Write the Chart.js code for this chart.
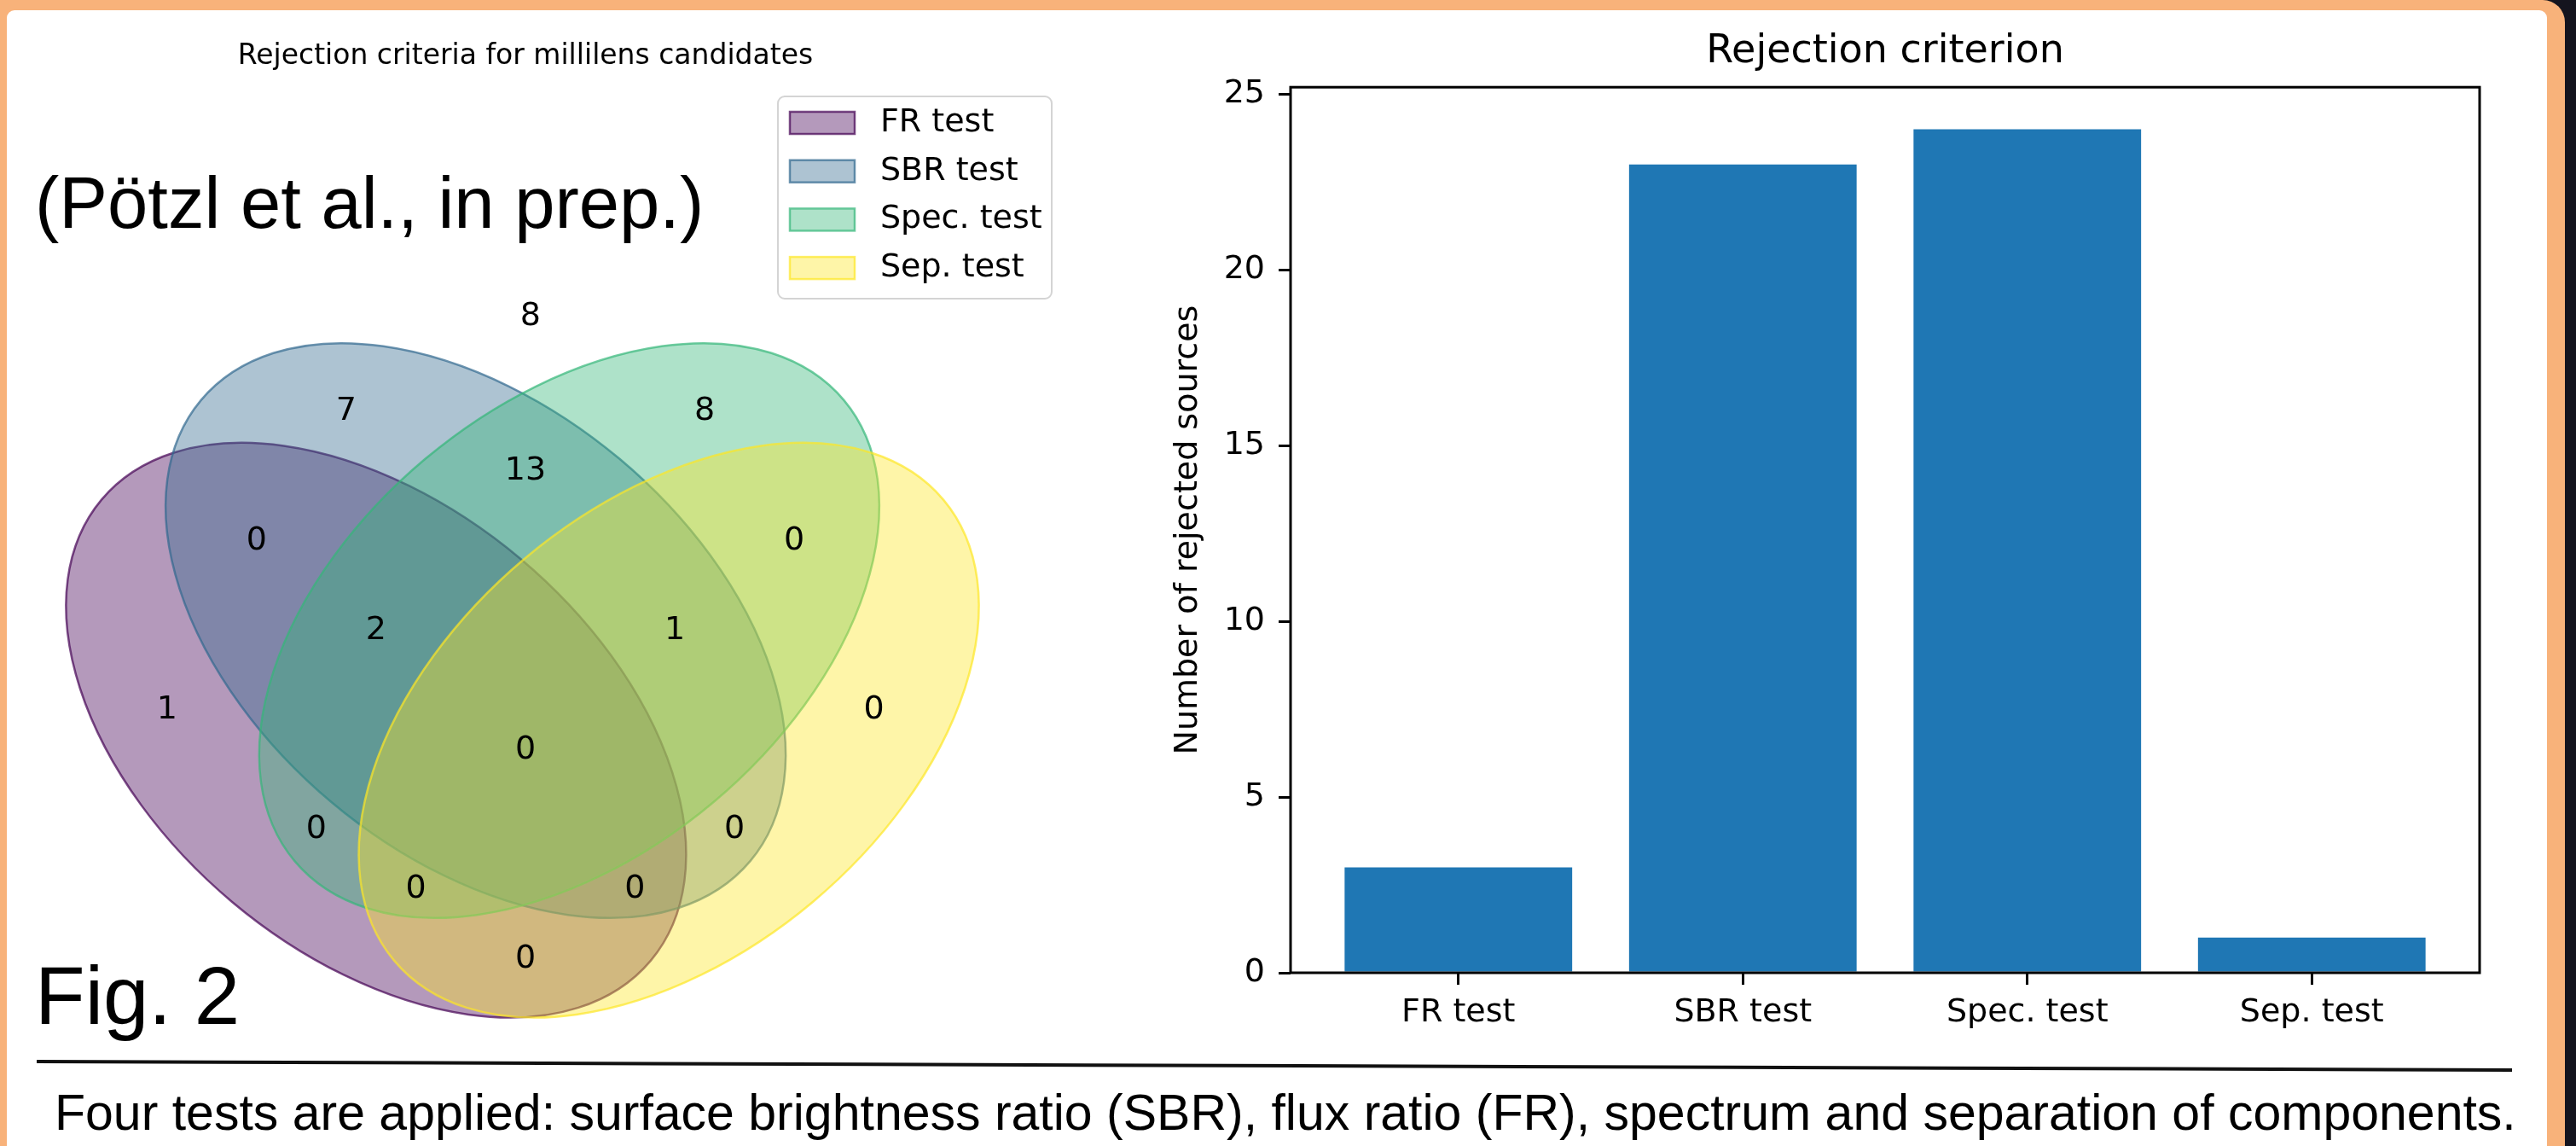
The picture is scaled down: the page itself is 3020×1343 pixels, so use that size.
<!DOCTYPE html>
<html>
<head>
<meta charset="utf-8">
<script src="https://cdn.jsdelivr.net/npm/chart.js@4.4.0/dist/chart.umd.min.js"></script>
<style>
  html, body { margin: 0; padding: 0; }
  body {
    width: 3020px; height: 1343px; overflow: hidden; position: relative;
    background: #14141e; font-family: 'Liberation Sans', Arial, sans-serif; color: #000;
  }
  #frame { position: absolute; left: 0; top: 0; width: 3007px; height: 1400px; background: #f8b27a; border-top-right-radius: 26px; }
  #card { position: absolute; left: 8px; top: 12px; width: 2978px; height: 1400px; background: #fff; border-radius: 9px; }
  canvas { position: absolute; }
  #venn { left: -26px; top: 0; }
  #bars { left: 1330px; top: 0; }
  .note { position: absolute; white-space: nowrap; line-height: 1; }
  #ref { left: 41px; top: 195px; font-size: 85px; }
  #fig { left: 41px; top: 1119px; font-size: 96px; }
  #caption { left: 64px; top: 1275px; font-size: 59px; }
  #rule { position: absolute; left: 0; top: 0; }
</style>
</head>
<body>
<div id="frame"></div>
<div id="card"></div>
<canvas id="venn" width="1284" height="1381"></canvas>
<canvas id="bars" width="1600" height="1240"></canvas>
<div class="note" id="ref">(Pötzl et al., in prep.)</div>
<div class="note" id="fig">Fig. 2</div>
<svg id="rule" width="3020" height="1343"><line x1="43" y1="1244" x2="2945" y2="1254" stroke="#111" stroke-width="4"/></svg>
<div class="note" id="caption">Four tests are applied: surface brightness ratio (SBR), flux ratio (FR), spectrum and separation of components.</div>

<script>
// values
const testNames = ['FR test', 'SBR test', 'Spec. test', 'Sep. test'];
const rejectedCounts = [3, 23, 24, 1];
const yTickValues = [0, 5, 10, 15, 20, 25];

// venn regions: digit i is 1 when the source fails test i (FR, SBR, Spec., Sep.)
const regionCodes = ['0000', '1000', '0100', '0010', '0001', '1100', '1010', '1001',
                     '0110', '0101', '0011', '1110', '1101', '1011', '0111', '1111'];
const regionCounts = [8, 1, 7, 8, 0, 0, 0, 0, 13, 0, 0, 2, 0, 0, 1, 0];

// 4-set ellipse layout (axis units, 0..1)
const ellipseCenters = [[0.350, 0.400], [0.450, 0.500], [0.544, 0.500], [0.644, 0.400]];
const ellipseDims = [0.72, 0.45];
const ellipseAngles = [140, 140, 40, 40];
const regionLabelPos = {
    '0000': [0.505, 0.815],
    '0001': [0.85, 0.42], '0010': [0.68, 0.72], '0011': [0.77, 0.59],
    '0100': [0.32, 0.72], '0101': [0.71, 0.30], '0110': [0.50, 0.66], '0111': [0.65, 0.50],
    '1000': [0.14, 0.42], '1001': [0.50, 0.17], '1010': [0.29, 0.30], '1011': [0.39, 0.24],
    '1100': [0.23, 0.59], '1101': [0.61, 0.24], '1110': [0.35, 0.50], '1111': [0.50, 0.38]
};
const setColors = [[68, 1, 84], [49, 104, 142], [53, 183, 121], [253, 231, 37]];  // viridis

Chart.defaults.font.family = '"DejaVu Sans", sans-serif';
Chart.defaults.color = '#000';

// ellipses, region counts and the legend box of the venn panel
const vennDrawing = {
    id: 'vennDrawing',
    beforeDatasetsDraw(chart) {
        const { ctx, scales: { x, y } } = chart;
        ctx.save();
        ellipseCenters.forEach((c, i) => {
            const cx = x.getPixelForValue(c[0]);
            const cy = y.getPixelForValue(c[1]);
            const rx = x.getPixelForValue(c[0] + ellipseDims[0] / 2) - cx;
            const ry = cy - y.getPixelForValue(c[1] + ellipseDims[1] / 2);
            const rgb = setColors[i].join(',');
            ctx.beginPath();
            ctx.ellipse(cx, cy, rx, ry, -ellipseAngles[i] * Math.PI / 180, 0, 2 * Math.PI);
            ctx.fillStyle = `rgba(${rgb},0.4)`;
            ctx.fill();
            ctx.lineWidth = 2.5;
            ctx.strokeStyle = `rgba(${rgb},0.7)`;
            ctx.stroke();
        });
        ctx.restore();
    },
    afterDatasetsDraw(chart) {
        const ctx = chart.ctx;
        const meta = chart.getDatasetMeta(0);
        ctx.save();
        ctx.font = '38px "DejaVu Sans"';
        ctx.fillStyle = '#000';
        ctx.textAlign = 'center';
        ctx.textBaseline = 'middle';
        meta.data.forEach((pt, i) => ctx.fillText(String(regionCounts[i]), pt.x, pt.y));
        ctx.restore();
    },
    afterDraw(chart) {
        const ctx = chart.ctx;
        const box = { left: 938, top: 113, width: 321, height: 237 };
        ctx.save();
        ctx.beginPath();
        ctx.roundRect(box.left, box.top, box.width, box.height, 8);
        ctx.fillStyle = 'rgba(255,255,255,0.8)';
        ctx.fill();
        ctx.lineWidth = 2;
        ctx.strokeStyle = '#d4d4d4';
        ctx.stroke();
        ctx.font = '38px "DejaVu Sans"';
        ctx.textBaseline = 'middle';
        testNames.forEach((name, i) => {
            const top = box.top + 18 + i * 56.7;
            const rgb = setColors[i].join(',');
            ctx.fillStyle = `rgba(${rgb},0.4)`;
            ctx.fillRect(box.left + 14, top, 76, 26);
            ctx.lineWidth = 2.5;
            ctx.strokeStyle = `rgba(${rgb},0.7)`;
            ctx.strokeRect(box.left + 14, top, 76, 26);
            ctx.fillStyle = '#000';
            ctx.fillText(name, box.left + 120, top + 13);
        });
        ctx.restore();
    }
};

new Chart(document.getElementById('venn'), {
    type: 'scatter',
    data: {
        datasets: [{
            data: regionCodes.map(code => ({ x: regionLabelPos[code][0], y: regionLabelPos[code][1] })),
            pointRadius: 0,
            pointHoverRadius: 0
        }]
    },
    options: {
        responsive: false,
        animation: false,
        devicePixelRatio: 1,
        layout: { padding: 0 },
        plugins: {
            legend: { display: false },
            tooltip: { enabled: false },
            title: {
                display: true,
                text: 'Rejection criteria for millilens candidates',
                font: { size: 33, weight: 'normal' },
                color: '#000',
                padding: { top: 47, bottom: 10.4 }
            }
        },
        scales: {
            x: { type: 'linear', min: -0.05, max: 1.05, display: false },
            y: { type: 'linear', min: -0.05, max: 1.05, display: false }
        }
    },
    plugins: [vennDrawing]
});

// matplotlib-style box round the plot area
const axesFrame = {
    id: 'axesFrame',
    afterDraw(chart) {
        const { ctx, chartArea: a } = chart;
        ctx.save();
        ctx.lineWidth = 3;
        ctx.strokeStyle = '#000';
        ctx.strokeRect(a.left, a.top, a.right - a.left, a.bottom - a.top);
        ctx.restore();
    }
};

new Chart(document.getElementById('bars'), {
    type: 'bar',
    data: {
        datasets: [{
            data: rejectedCounts.map((v, i) => ({ x: i, y: v })),
            backgroundColor: '#1f77b4',
            borderWidth: 0,
            barPercentage: 0.8,
            categoryPercentage: 1
        }]
    },
    options: {
        responsive: false,
        animation: false,
        devicePixelRatio: 1,
        layout: { padding: { left: 0, right: 23, top: 0, bottom: 0 } },
        plugins: {
            legend: { display: false },
            tooltip: { enabled: false },
            title: {
                display: true,
                fullSize: false,   // centre over the plot area, like matplotlib
                text: 'Rejection criterion',
                font: { size: 46, weight: 'normal' },
                color: '#000',
                padding: { top: 33, bottom: 14 }
            }
        },
        scales: {
            x: {
                type: 'linear',
                min: -0.59,
                max: 3.59,
                offset: false,
                afterBuildTicks: axis => { axis.ticks = testNames.map((_, i) => ({ value: i })); },
                afterFit: axis => { axis.height = 100; },
                ticks: {
                    callback: value => testNames[value],
                    font: { size: 38 },
                    color: '#000',
                    padding: 10,
                    autoSkip: false,
                    maxRotation: 0
                },
                grid: { drawOnChartArea: false, offset: false, tickLength: 14, tickWidth: 3, lineWidth: 3, color: '#000' },
                border: { display: false }
            },
            y: {
                min: 0,
                max: 25.2,
                afterBuildTicks: axis => { axis.ticks = yTickValues.map(v => ({ value: v })); },
                afterFit: axis => { axis.width = 183; },
                ticks: { font: { size: 38 }, color: '#000', padding: 16 },
                grid: { drawOnChartArea: false, tickLength: 14, tickWidth: 3, lineWidth: 3, color: '#000' },
                border: { display: false },
                title: {
                    display: true,
                    text: 'Number of rejected sources',
                    font: { size: 38 },
                    color: '#000',
                    padding: { top: 40, bottom: 0 }
                }
            }
        }
    },
    plugins: [axesFrame]
});
</script>
</body>
</html>
